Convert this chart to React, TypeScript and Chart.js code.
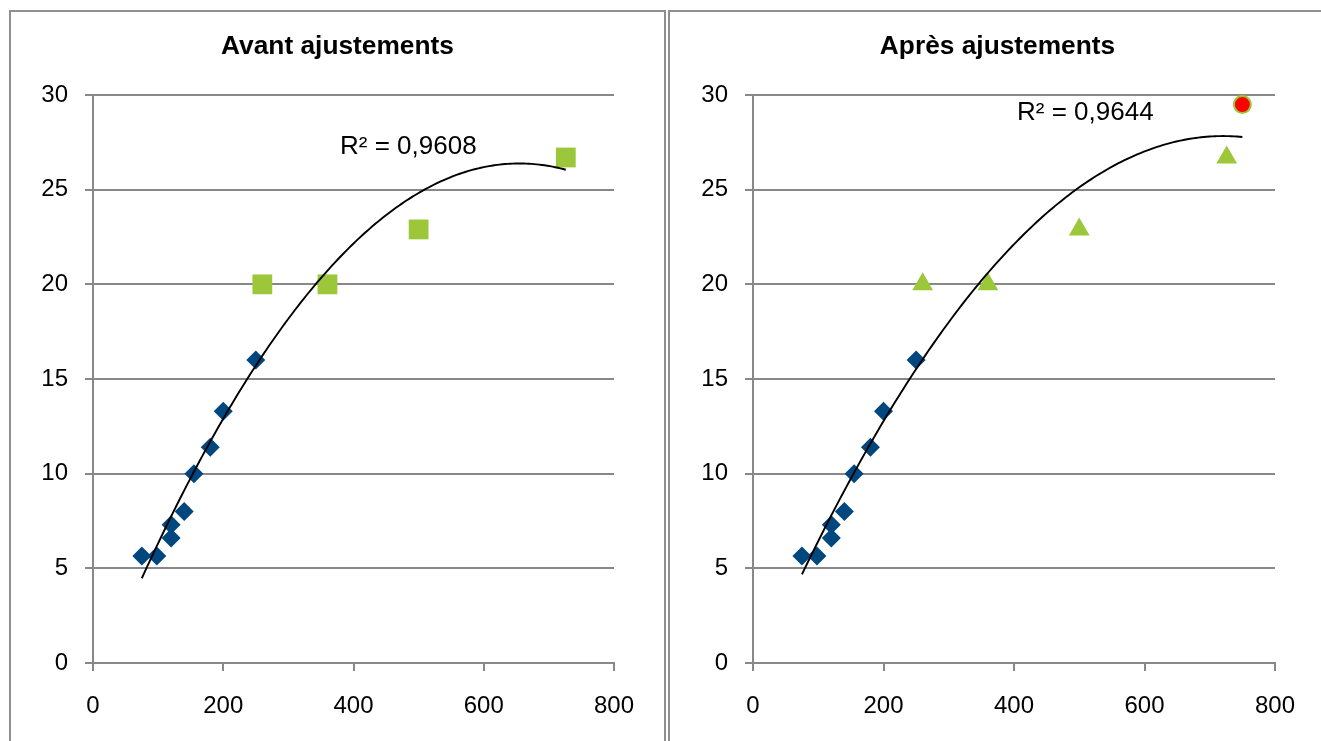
import React, { useEffect, useRef } from "react";
import { Chart, registerables } from "chart.js";

Chart.register(...registerables);

// Measured points: the first nine share the same marker in both panels
const xBase = [75, 98, 120, 120, 140, 155, 180, 200, 250];
const yBase = [5.65, 5.65, 7.3, 6.6, 8.0, 10.0, 11.4, 13.3, 16.0];
// Points that are corrected between the two panels
const xAdjusted = [260, 360, 500, 726];
const yAdjusted = [20, 20, 22.9, 26.7];
// Extra point added after the adjustments
const xExtra = [750];
const yExtra = [29.5];

const xTicks = [0, 200, 400, 600, 800];
const yTicks = [0, 5, 10, 15, 20, 25, 30];

const titles = ["Avant ajustements", "Après ajustements"];
const r2Labels = ["R² = 0,9608", "R² = 0,9644"];

const FONT = "'Liberation Sans', Arial, sans-serif";
const GRID = "#888888";
const BLUE = "#00467f";
const GREEN = "#9dc73a";
const RED = "#ff0000";

type Pt = { x: number; y: number };
const toPoints = (xs: number[], ys: number[]): Pt[] => xs.map((x, i) => ({ x, y: ys[i] }));

// Least-squares polynomial of order 2: y = a + b x + c x²
function quadFit(pts: Pt[]): number[] {
  const s = [0, 0, 0, 0, 0];
  const t = [0, 0, 0];
  pts.forEach(({ x, y }) => {
    let p = 1;
    for (let k = 0; k < 5; k++) {
      s[k] += p;
      if (k < 3) t[k] += p * y;
      p *= x;
    }
  });
  const M = [
    [s[0], s[1], s[2], t[0]],
    [s[1], s[2], s[3], t[1]],
    [s[2], s[3], s[4], t[2]],
  ];
  for (let i = 0; i < 3; i++) {
    for (let j = i + 1; j < 3; j++) {
      const f = M[j][i] / M[i][i];
      for (let k = i; k < 4; k++) M[j][k] -= f * M[i][k];
    }
  }
  const c = M[2][3] / M[2][2];
  const b = (M[1][3] - M[1][2] * c) / M[1][1];
  const a = (M[0][3] - M[0][1] * b - M[0][2] * c) / M[0][0];
  return [a, b, c];
}

// Panel heading, drawn centred over the whole panel
const headingPlugin = {
  id: "heading",
  afterDraw(chart: any, _args: any, opts: any) {
    if (!opts || !opts.text) return;
    const { ctx } = chart;
    ctx.save();
    ctx.font = `bold 26.3px ${FONT}`;
    ctx.fillStyle = "#000000";
    ctx.textAlign = "center";
    ctx.textBaseline = "middle";
    ctx.fillText(opts.text, opts.cx, opts.cy);
    ctx.restore();
  },
};

// Draws the polynomial trend curve over the markers, plus its R² caption
const trendPlugin = {
  id: "trend",
  afterDatasetsDraw(chart: any, _args: any, opts: any) {
    if (!opts || !opts.points) return;
    const pts: Pt[] = opts.points;
    const [a, b, c] = quadFit(pts);
    const xs = pts.map((p) => p.x);
    const from = Math.min(...xs);
    const to = Math.max(...xs);
    const { ctx, chartArea, scales } = chart;
    ctx.save();
    ctx.beginPath();
    const n = 160;
    for (let i = 0; i <= n; i++) {
      const x = from + ((to - from) * i) / n;
      const y = a + b * x + c * x * x;
      const px = scales.x.getPixelForValue(x);
      const py = scales.y.getPixelForValue(y);
      if (i === 0) ctx.moveTo(px, py);
      else ctx.lineTo(px, py);
    }
    ctx.strokeStyle = "#000000";
    ctx.lineWidth = 1.9;
    ctx.stroke();

    ctx.font = `26px ${FONT}`;
    ctx.fillStyle = "#000000";
    ctx.textAlign = "left";
    ctx.textBaseline = "middle";
    ctx.fillText(opts.label, chartArea.left + opts.dx, chartArea.top + opts.dy);
    ctx.restore();
  },
};

type PanelSpec = {
  title: string;
  titleX: number;
  label: string;
  dx: number;
  dy: number;
  datasets: any[];
  padRight: number;
  axisWidth: number;
};

function makeConfig(spec: PanelSpec): any {
  const allPoints: Pt[] = spec.datasets.flatMap((d) => d.data);
  return {
    type: "scatter",
    data: { datasets: spec.datasets },
    plugins: [trendPlugin, headingPlugin],
    options: {
      animation: false,
      responsive: false,
      events: [],
      layout: { padding: { left: 0, right: spec.padRight, top: 95, bottom: 0 } },
      plugins: {
        legend: { display: false },
        tooltip: { enabled: false },
        title: { display: false },
        heading: { text: spec.title, cx: spec.titleX, cy: 46.5 },
        trend: { points: allPoints, label: spec.label, dx: spec.dx, dy: spec.dy },
      },
      scales: {
        x: {
          type: "linear",
          min: xTicks[0],
          max: xTicks[xTicks.length - 1],
          afterBuildTicks: (s: any) => {
            s.ticks = xTicks.map((v) => ({ value: v }));
          },
          afterFit: (s: any) => {
            s.height = 78;
          },
          ticks: {
            color: "#000000",
            font: { family: FONT, size: 24 },
            padding: 21,
            maxRotation: 0,
          },
          grid: {
            drawOnChartArea: false,
            drawTicks: true,
            tickLength: 8,
            color: GRID,
            lineWidth: 2,
          },
          border: { display: true, color: GRID, width: 2 },
        },
        y: {
          type: "linear",
          min: yTicks[0],
          max: yTicks[yTicks.length - 1],
          afterBuildTicks: (s: any) => {
            s.ticks = yTicks.map((v) => ({ value: v }));
          },
          afterFit: (s: any) => {
            s.width = spec.axisWidth;
          },
          ticks: {
            color: "#000000",
            font: { family: FONT, size: 24 },
            padding: 17,
          },
          grid: {
            drawTicks: true,
            tickLength: 8,
            color: GRID,
            lineWidth: 2,
          },
          border: { display: true, color: GRID, width: 2 },
        },
      },
    },
  };
}

const leftSpec: PanelSpec = {
  title: titles[0],
  titleX: 328.5,
  label: r2Labels[0],
  dx: 247,
  dy: 52,
  padRight: 52,
  axisWidth: 84,
  datasets: [
    {
      data: toPoints(xBase, yBase),
      pointStyle: "rectRot",
      pointRadius: 9.5,
      backgroundColor: BLUE,
      borderColor: BLUE,
      borderWidth: 0,
      showLine: false,
    },
    {
      data: toPoints(xAdjusted, yAdjusted),
      pointStyle: "rect",
      pointRadius: 14,
      backgroundColor: GREEN,
      borderColor: GREEN,
      borderWidth: 0,
      showLine: false,
    },
  ],
};

const rightSpec: PanelSpec = {
  title: titles[1],
  titleX: 329.5,
  label: r2Labels[1],
  dx: 264,
  dy: 18,
  padRight: 46,
  axisWidth: 85,
  datasets: [
    {
      data: toPoints(xBase, yBase),
      pointStyle: "rectRot",
      pointRadius: 9.5,
      backgroundColor: BLUE,
      borderColor: BLUE,
      borderWidth: 0,
      showLine: false,
    },
    {
      data: toPoints(xAdjusted, yAdjusted),
      pointStyle: "triangle",
      pointRadius: 12,
      backgroundColor: GREEN,
      borderColor: GREEN,
      borderWidth: 0,
      showLine: false,
    },
    {
      data: toPoints(xExtra, yExtra),
      pointStyle: "circle",
      pointRadius: 8.5,
      backgroundColor: RED,
      borderColor: GREEN,
      borderWidth: 2,
      showLine: false,
    },
  ],
};

function ScatterCanvas({ spec, left, width }: { spec: PanelSpec; left: number; width: number }) {
  const ref = useRef<HTMLCanvasElement>(null);
  useEffect(() => {
    if (!ref.current) return;
    const chart = new Chart(ref.current, makeConfig(spec));
    return () => chart.destroy();
  }, [spec]);
  return (
    <canvas
      ref={ref}
      width={width}
      height={741}
      style={{ position: "absolute", left, top: 0, width, height: 741, zIndex: 2 }}
    />
  );
}

export default function App() {
  const panel: React.CSSProperties = {
    position: "absolute",
    top: 10,
    height: 800,
    border: "2px solid #8f8f8f",
    boxSizing: "border-box",
    background: "#ffffff",
    zIndex: 1,
  };
  return (
    <div
      style={{
        position: "fixed",
        left: 0,
        top: 0,
        width: 1321,
        height: 741,
        overflow: "hidden",
        background: "#ffffff",
      }}
    >
      <div style={{ ...panel, left: 9, width: 657 }} />
      <div style={{ ...panel, left: 668, width: 660 }} />
      <ScatterCanvas spec={leftSpec} left={9} width={657} />
      <ScatterCanvas spec={rightSpec} left={668} width={653} />
    </div>
  );
}
